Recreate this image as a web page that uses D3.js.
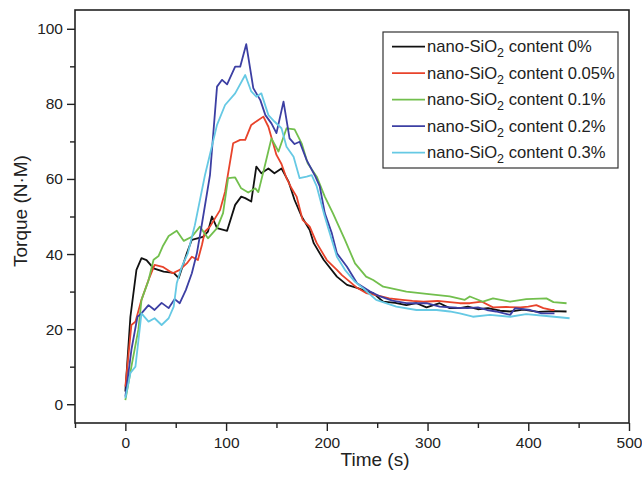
<!DOCTYPE html>
<html>
<head>
<meta charset="utf-8">
<script src="https://cdn.jsdelivr.net/npm/d3@7"></script>
<style>
  body { margin: 0; background: #fff; }
  svg { display: block; font-family: "Liberation Sans", Arial, sans-serif; }
</style>
</head>
<body>
<svg id="chart" width="642" height="477"></svg>
<script>
// torque curves, time in s, torque in N·M
const tBlack = [0, 5, 11, 16, 21, 28, 38, 48, 53, 61, 66, 77, 82, 86, 91, 101, 109, 115, 119, 125,
    130, 135, 142, 148, 155, 162, 168, 175, 183, 187, 197, 210, 220, 230, 240, 246, 256, 268, 279, 289,
    299, 312, 322, 332, 340, 350, 360, 372, 382, 395, 410, 425, 438];
const yBlack = [3.4, 23.3, 35.8, 38.9, 38.4, 36.2, 35.3, 35.0, 33.6, 40.2, 43.8, 44.6, 46.0, 50.0, 46.9, 46.2, 53.1, 55.3, 54.9, 54.0,
    63.3, 61.5, 62.8, 61.5, 62.8, 59.3, 54.4, 50.0, 46.4, 42.9, 38.4, 34.0, 31.8, 31.0, 30.0, 29.6, 27.3, 27.0, 26.4, 26.9,
    25.8, 26.9, 25.6, 25.6, 26.0, 25.3, 25.6, 24.9, 24.7, 25.2, 24.6, 24.8, 24.7];

const tRed = [0, 6, 10, 16, 23, 29, 37, 47, 54, 61, 66, 72, 76, 79, 84, 94, 99, 107, 114, 119,
    125, 131, 137, 142, 150, 155, 160, 165, 170, 176, 183, 190, 200, 210, 215, 223, 230, 239, 250, 262,
    275, 285, 296, 310, 322, 332, 342, 354, 365, 378, 392, 400, 408, 415, 423, 426];
const yRed = [4.7, 21.1, 22.0, 27.8, 33.1, 37.1, 36.6, 34.9, 35.8, 37.5, 39.3, 38.4, 42.4, 46.0, 47.3, 51.7, 56.6, 69.5, 70.4, 70.4,
    74.4, 75.5, 76.6, 73.9, 66.4, 64.0, 60.2, 57.5, 55.3, 49.1, 47.3, 42.9, 38.4, 35.8, 34.4, 32.6, 31.0, 29.6, 29.0, 28.2,
    27.8, 27.5, 27.3, 27.5, 27.2, 26.9, 26.9, 27.3, 25.8, 25.9, 25.8, 26.0, 26.4, 25.6, 25.1, 25.1];

const tGreen = [0, 6, 13, 16, 23, 28, 33, 37, 43, 51, 58, 66, 74, 82, 91, 97, 102, 109, 115, 122,
    129, 132, 138, 145, 152, 160, 168, 175, 181, 190, 198, 206, 218, 228, 239, 246, 256, 263, 279, 299,
    322, 337, 342, 355, 365, 382, 398, 418, 425, 438];
const yGreen = [1.1, 10.0, 20.0, 27.8, 33.0, 38.5, 39.5, 42.0, 44.8, 46.2, 43.5, 44.6, 47.3, 44.2, 46.9, 50.9, 60.2, 60.4, 57.5, 56.4,
    57.5, 56.5, 63.0, 70.8, 67.3, 73.5, 73.2, 69.5, 64.2, 60.6, 55.3, 50.9, 43.8, 37.5, 34.0, 33.1, 31.3, 30.9, 30.0, 29.4,
    28.7, 27.8, 28.7, 27.3, 28.2, 27.3, 28.0, 28.2, 27.2, 26.9];

const tBlue = [0, 6, 12, 16, 23, 29, 36, 43, 49, 54, 60, 66, 71, 76, 84, 91, 96, 101, 109, 114,
    120, 127, 134, 139, 145, 150, 157, 163, 168, 173, 180, 188, 193, 198, 205, 210, 220, 230, 243, 253,
    265, 279, 299, 312, 329, 340, 350, 359, 368, 382, 387, 402, 413, 426];
const yBlue = [2.0, 14.5, 23.3, 24.2, 26.4, 25.1, 27.0, 25.6, 28.0, 26.9, 30.4, 34.9, 40.2, 48.0, 61.0, 84.6, 86.4, 85.2, 89.9, 89.9,
    95.9, 84.2, 81.0, 77.0, 74.8, 72.2, 80.6, 70.8, 69.3, 69.9, 65.0, 61.0, 58.0, 50.9, 45.5, 40.2, 36.6, 32.2, 30.0, 28.7,
    27.6, 26.9, 26.9, 26.0, 25.7, 25.6, 25.8, 25.1, 24.7, 23.8, 25.6, 25.1, 24.2, 24.2];

const tCyan = [0, 5, 10, 13, 16, 23, 29, 36, 43, 48, 51, 56, 62, 69, 79, 91, 99, 109, 119, 125,
    130, 135, 142, 148, 155, 160, 167, 173, 180, 185, 190, 197, 203, 210, 218, 228, 236, 249, 269, 289,
    309, 322, 332, 345, 362, 382, 398, 418, 441];
const yCyan = [1.6, 8.3, 10.0, 17.1, 24.2, 22.0, 22.9, 21.1, 22.9, 26.0, 32.2, 36.6, 40.2, 47.7, 61.0, 74.4, 79.7, 82.8, 87.7, 83.3,
    81.9, 82.8, 77.0, 75.3, 73.5, 68.6, 65.9, 60.2, 60.6, 61.0, 58.0, 50.9, 45.5, 39.3, 35.8, 32.6, 30.9, 27.8, 26.0, 25.1,
    25.1, 24.7, 24.2, 23.3, 23.8, 23.3, 24.0, 23.5, 22.9];

const contents = ["0%", "0.05%", "0.1%", "0.2%", "0.3%"];
const colors = ["#111111", "#e8432b", "#72bf4d", "#3c3fa3", "#66c9e4"];
const xTicks = [0, 100, 200, 300, 400, 500];
const yTicks = [0, 20, 40, 60, 80, 100];

const series = [
    { t: tBlack, y: yBlack },
    { t: tRed, y: yRed },
    { t: tGreen, y: yGreen },
    { t: tBlue, y: yBlue },
    { t: tCyan, y: yCyan }
].map((s, i) => ({
    label: contents[i],
    color: colors[i],
    points: s.t.map((t, j) => [t, s.y[j]])
}));

// plot box
const margin = { top: 10, right: 13, bottom: 54, left: 75 };
const W = 642, H = 477;
const innerW = W - margin.left - margin.right;
const innerH = H - margin.top - margin.bottom;

const svg = d3.select("#chart");
const g = svg.append("g").attr("transform", `translate(${margin.left},${margin.top})`);

const x = d3.scaleLinear().domain([-50, 500]).range([0, innerW]);
const y = d3.scaleLinear().domain([-5, 105]).range([innerH, 0]);

// minor ticks first, majors on top
const xMinor = d3.range(-50, 501, 50).filter(v => !xTicks.includes(v));
const yMinor = d3.range(0, 101, 10).filter(v => !yTicks.includes(v));

g.append("g")
    .attr("transform", `translate(0,${innerH})`)
    .call(d3.axisBottom(x).tickValues(xMinor).tickSize(5).tickFormat(""))
    .call(ax => ax.select(".domain").remove())
    .call(ax => ax.selectAll(".tick line").attr("stroke", "#222").attr("stroke-width", 1.4));

g.append("g")
    .call(d3.axisLeft(y).tickValues(yMinor).tickSize(5).tickFormat(""))
    .call(ax => ax.select(".domain").remove())
    .call(ax => ax.selectAll(".tick line").attr("stroke", "#222").attr("stroke-width", 1.4));

const xAxis = g.append("g")
    .attr("transform", `translate(0,${innerH})`)
    .call(d3.axisBottom(x).tickValues(xTicks).tickSize(8).tickPadding(6))
    .call(ax => ax.select(".domain").remove());

const yAxis = g.append("g")
    .call(d3.axisLeft(y).tickValues(yTicks).tickSize(8).tickPadding(4))
    .call(ax => ax.select(".domain").remove());

[xAxis, yAxis].forEach(ax => {
    ax.selectAll(".tick line").attr("stroke", "#222").attr("stroke-width", 1.4);
    ax.selectAll(".tick text")
        .attr("fill", "#222")
        .attr("font-size", "15.5px")
        .attr("font-family", "'Liberation Sans', Arial, sans-serif");
});

// frame
g.append("rect")
    .attr("width", innerW)
    .attr("height", innerH)
    .attr("fill", "none")
    .attr("stroke", "#222")
    .attr("stroke-width", 1.6);

// curves
const line = d3.line().x(d => x(d[0])).y(d => y(d[1]));

g.selectAll(".curve")
    .data(series)
    .join("path")
    .attr("class", "curve")
    .attr("d", d => line(d.points))
    .attr("fill", "none")
    .attr("stroke", d => d.color)
    .attr("stroke-width", 1.8)
    .attr("stroke-linejoin", "round");

// axis titles
svg.append("text")
    .attr("x", 375)
    .attr("y", 466)
    .attr("text-anchor", "middle")
    .attr("font-size", "19px")
    .attr("fill", "#222")
    .text("Time (s)");

svg.append("text")
    .attr("transform", "translate(27,211) rotate(-90)")
    .attr("text-anchor", "middle")
    .attr("font-size", "19px")
    .attr("fill", "#222")
    .text("Torque (N·M)");

// legend
const legend = svg.append("g").attr("transform", "translate(383,32)");
legend.append("rect")
    .attr("width", 235)
    .attr("height", 136)
    .attr("fill", "#fff")
    .attr("stroke", "#333")
    .attr("stroke-width", 1.2);

const rows = legend.selectAll(".row")
    .data(series)
    .join("g")
    .attr("class", "row")
    .attr("transform", (d, i) => `translate(0,${14.7 + i * 26.5})`);

rows.append("line")
    .attr("x1", 9).attr("x2", 42)
    .attr("stroke", d => d.color)
    .attr("stroke-width", 1.8);

const label = rows.append("text")
    .attr("x", 44)
    .attr("y", 5.5)
    .attr("font-size", "16.6px")
    .attr("fill", "#222");
label.append("tspan").text("nano-SiO");
label.append("tspan").attr("font-size", "12.5px").attr("dy", 5).text("2");
label.append("tspan").attr("dy", -5).text(d => " content " + d.label);
</script>
</body>
</html>
